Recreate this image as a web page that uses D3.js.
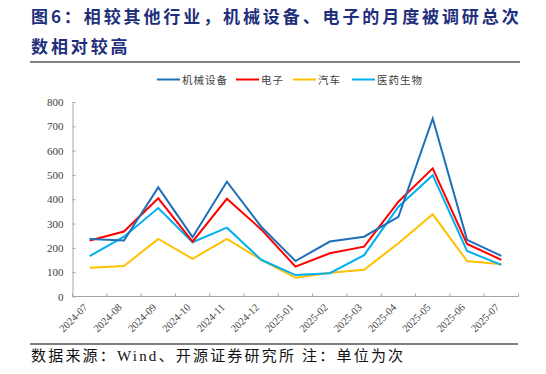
<!DOCTYPE html>
<html>
<head>
<meta charset="utf-8">
<style>
    body { margin: 0; background: #fff; }
    .title { font-family: "Noto Sans CJK SC", sans-serif; font-weight: bold; fill: #1f2f7c; font-size: 17px; letter-spacing: 2.9px; }
    .axis text { font-family: "Liberation Serif", "Noto Sans CJK SC", serif; font-size: 11px; fill: #404040; }
    .axis path, .axis line { stroke: #a6a6a6; }
    .legend text { font-family: "Noto Sans CJK SC", sans-serif; font-size: 10.5px; fill: #404040; letter-spacing: 1px; }
    .source { font-family: "Liberation Serif", "Noto Sans CJK SC", serif; font-size: 15px; fill: #111; letter-spacing: 2.2px; }
    .series { fill: none; stroke-width: 2px; stroke-linejoin: miter; }
</style>
</head>
<body>
<div class="viz"></div>
<script src="https://cdnjs.cloudflare.com/ajax/libs/d3/7.8.5/d3.min.js"></script>
<script>
    var months = ["2024-07","2024-08","2024-09","2024-10","2024-11","2024-12",
                  "2025-01","2025-02","2025-03","2025-04","2025-05","2025-06","2025-07"];
    var seriesNames = ["机械设备", "电子", "汽车", "医药生物"];
    var seriesColors = ["#1f6fb8", "#ff0000", "#ffc000", "#00b0f0"];
    var jixie   = [237, 230, 449, 244, 472, 287, 146, 226, 246, 328, 732, 233, 167];
    var dianzi  = [230, 267, 404, 226, 402, 276, 123, 178, 205, 390, 527, 216, 151];
    var qiche   = [118, 125, 237, 155, 237, 151,  77,  98, 110, 219, 338, 146, 133];
    var yiyao   = [166, 246, 364, 223, 283, 151,  88,  96, 170, 369, 499, 187, 130];
    var yTicks  = [0, 100, 200, 300, 400, 500, 600, 700, 800];

    var W = 546, H = 374;
    var svg = d3.select(".viz").append("svg")
        .attr("width", W).attr("height", H);

    // title
    svg.append("text").attr("class", "title").attr("x", 31).attr("y", 23)
        .text("图6：相较其他行业，机械设备、电子的月度被调研总次");
    svg.append("text").attr("class", "title").attr("x", 31).attr("y", 53)
        .text("数相对较高");

    svg.append("line").attr("x1", 30).attr("x2", 520).attr("y1", 62).attr("y2", 62)
        .attr("stroke", "#000").attr("stroke-width", 1);
    svg.append("line").attr("x1", 30).attr("x2", 518).attr("y1", 344).attr("y2", 344)
        .attr("stroke", "#000").attr("stroke-width", 1);

    svg.append("text").attr("class", "source").attr("x", 31).attr("y", 361)
        .text("数据来源：Wind、开源证券研究所 注：单位为次");

    var x = d3.scaleBand().domain(months).range([72.5, 518.5]);
    var y = d3.scaleLinear().domain([0, 800]).range([296.5, 102]);

    // y axis, ticks pointing inward
    var yAxis = svg.append("g").attr("class", "axis")
        .attr("transform", "translate(72.5,0)")
        .call(d3.axisRight(y).tickValues(yTicks).tickSize(3).tickSizeOuter(0));
    yAxis.selectAll("text").attr("x", -9).attr("text-anchor", "end");

    // x axis, ticks at category boundaries pointing up
    var xAxis = svg.append("g").attr("class", "axis")
        .attr("transform", "translate(0,296.5)");
    xAxis.append("line").attr("x1", 72.5).attr("x2", 518.5).attr("y1", 0).attr("y2", 0);
    xAxis.selectAll(".tk").data(months.concat(["end"])).enter().append("line")
        .attr("class", "tk")
        .attr("x1", function (d, i) { return 72.5 + i * x.step(); })
        .attr("x2", function (d, i) { return 72.5 + i * x.step(); })
        .attr("y1", 0).attr("y2", -3);
    xAxis.selectAll(".lbl").data(months).enter().append("text")
        .attr("class", "lbl")
        .attr("text-anchor", "end")
        .style("font-size", "10.5px")
        .attr("transform", function (d) {
            return "translate(" + (x(d) + x.bandwidth() / 2 - 4) + ",9) rotate(-45)";
        })
        .attr("dy", "0.35em")
        .text(function (d) { return d; });

    var line = d3.line()
        .x(function (d, i) { return x(months[i]) + x.bandwidth() / 2; })
        .y(function (d) { return y(d); });

    var allSeries = [jixie, dianzi, qiche, yiyao];
    var drawOrder = [2, 3, 1, 0];
    drawOrder.forEach(function (k) {
        svg.append("path").attr("class", "series")
            .attr("d", line(allSeries[k]))
            .attr("stroke", seriesColors[k]);
    });

    // legend
    var legendX = [157, 236, 293, 352];
    var legend = svg.append("g").attr("class", "legend");
    seriesNames.forEach(function (name, i) {
        legend.append("line")
            .attr("x1", legendX[i]).attr("x2", legendX[i] + 23)
            .attr("y1", 79.5).attr("y2", 79.5)
            .attr("stroke", seriesColors[i]).attr("stroke-width", 2);
        legend.append("text")
            .attr("x", legendX[i] + 25).attr("y", 83.5)
            .text(name);
    });
</script>
</body>
</html>
